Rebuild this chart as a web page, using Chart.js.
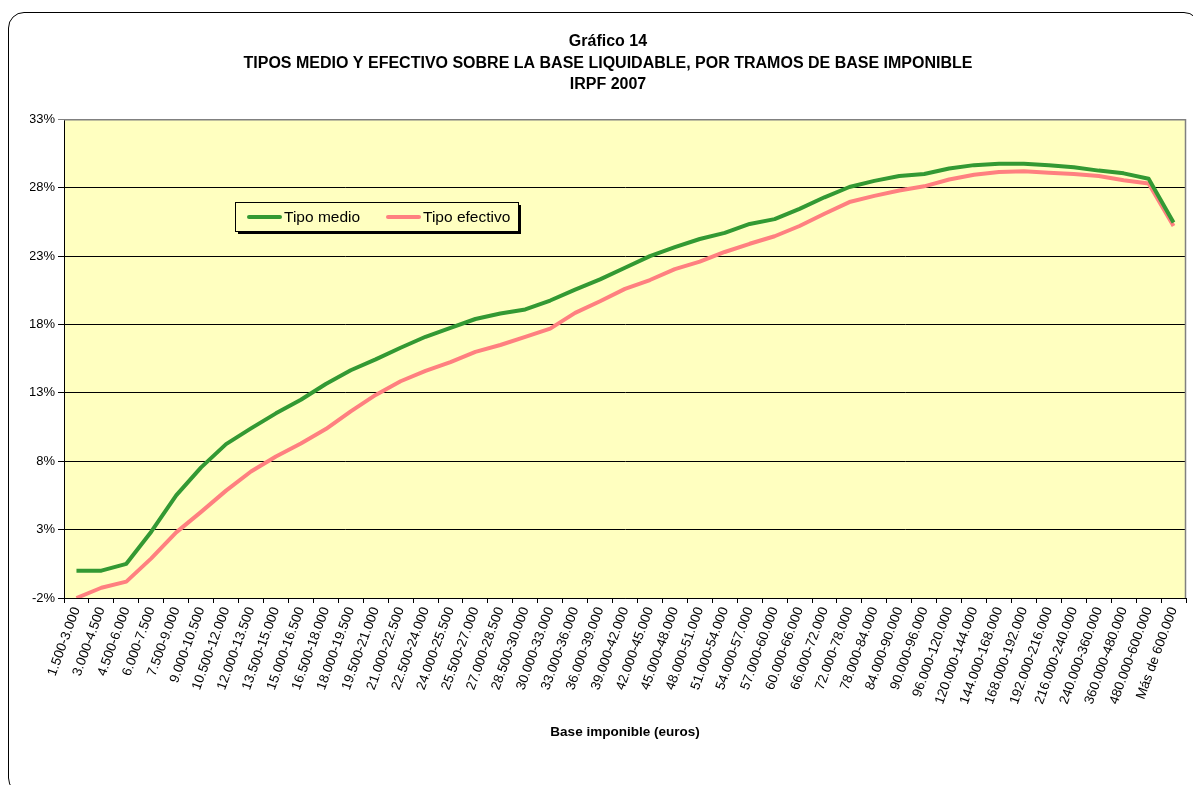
<!DOCTYPE html>
<html>
<head>
<meta charset="utf-8">
<script src="https://cdn.jsdelivr.net/npm/chart.js@4.4.0/dist/chart.umd.min.js"></script>
<style>
  html, body { margin: 0; padding: 0; background: #ffffff; overflow: hidden; }
  #wrap { position: relative; width: 1193px; height: 785px; }
  #frame { position: absolute; left: 8px; top: 12px; width: 1192px; height: 782px;
           border: 1.5px solid #000; border-radius: 16px; box-sizing: border-box; pointer-events: none; }
  canvas { position: absolute; left: 0; top: 0; }
</style>
</head>
<body>
<div id="wrap">
  <canvas id="c" width="1193" height="785"></canvas>
  <div id="frame"></div>
</div>
<script>
const categories = [
  "1.500-3.000","3.000-4.500","4.500-6.000","6.000-7.500","7.500-9.000","9.000-10.500",
  "10.500-12.000","12.000-13.500","13.500-15.000","15.000-16.500","16.500-18.000","18.000-19.500",
  "19.500-21.000","21.000-22.500","22.500-24.000","24.000-25.500","25.500-27.000","27.000-28.500",
  "28.500-30.000","30.000-33.000","33.000-36.000","36.000-39.000","39.000-42.000","42.000-45.000",
  "45.000-48.000","48.000-51.000","51.000-54.000","54.000-57.000","57.000-60.000","60.000-66.000",
  "66.000-72.000","72.000-78.000","78.000-84.000","84.000-90.000","90.000-96.000","96.000-120.000",
  "120.000-144.000","144.000-168.000","168.000-192.000","192.000-216.000","216.000-240.000",
  "240.000-360.000","360.000-480.000","480.000-600.000","Más de 600.000"
];
const tipoMedio = [
  0.0, 0.0, 0.5, 2.85, 5.5, 7.55, 9.25, 10.4, 11.5, 12.5, 13.65, 14.65, 15.45, 16.3,
  17.1, 17.75, 18.4, 18.8, 19.1, 19.75, 20.55, 21.3, 22.15, 23.0, 23.65, 24.25, 24.7,
  25.35, 25.7, 26.45, 27.3, 28.05, 28.5, 28.85, 29.0, 29.4, 29.65, 29.75, 29.75, 29.65,
  29.5, 29.25, 29.05, 28.65, 25.45
];
const tipoEfectivo = [
  -2.0, -1.25, -0.8, 0.9, 2.8, 4.3, 5.85, 7.25, 8.35, 9.3, 10.35, 11.65, 12.85, 13.85,
  14.6, 15.25, 16.0, 16.5, 17.1, 17.7, 18.85, 19.7, 20.6, 21.25, 22.05, 22.6, 23.3,
  23.9, 24.45, 25.2, 26.1, 26.95, 27.4, 27.8, 28.1, 28.6, 28.95, 29.15, 29.2, 29.1,
  29.0, 28.85, 28.55, 28.3, 25.2
];
const yTicks = [-2, 3, 8, 13, 18, 23, 28, 33];
const titleLines = ["Gráfico 14", "TIPOS MEDIO Y EFECTIVO SOBRE LA BASE LIQUIDABLE, POR TRAMOS DE BASE IMPONIBLE", "IRPF 2007"];
const xTitle = "Base imponible (euros)";
const seriesNames = ["Tipo medio", "Tipo efectivo"];
const seriesColors = ["#339933", "#FF8080"];

const FONT = "Arial, 'Liberation Sans', sans-serif";

const bgPlugin = {
  id: 'plotBg',
  beforeDraw(chart) {
    const {ctx, chartArea: a} = chart;
    ctx.save();
    ctx.fillStyle = '#FFFFC0';
    ctx.fillRect(a.left, a.top, a.right - a.left, a.bottom - a.top);
    ctx.restore();
  },
  afterDatasetsDraw(chart) {
    const {ctx, chartArea: a} = chart;
    ctx.save();
    ctx.strokeStyle = '#808080';
    ctx.lineWidth = 1.5;
    ctx.beginPath();
    ctx.moveTo(a.left, a.top + 0.5);
    ctx.lineTo(a.right - 0.5, a.top + 0.5);
    ctx.lineTo(a.right - 0.5, a.bottom);
    ctx.stroke();
    ctx.restore();
  }
};

const legendPlugin = {
  id: 'innerLegend',
  afterDraw(chart) {
    const ctx = chart.ctx;
    const x = 235, y = 202, w = 283, h = 29;
    ctx.save();
    ctx.fillStyle = '#000';
    ctx.fillRect(x + 3, y + 3, w, h);
    ctx.fillStyle = '#FFFFC0';
    ctx.fillRect(x, y, w, h);
    ctx.strokeStyle = '#000';
    ctx.lineWidth = 1;
    ctx.strokeRect(x + 0.5, y + 0.5, w, h);
    ctx.font = "15.5px " + FONT;
    ctx.textBaseline = 'middle';
    const items = chart.data.datasets;
    const starts = [249, 388];
    items.forEach((ds, i) => {
      const sx = starts[i];
      ctx.strokeStyle = ds.borderColor;
      ctx.lineWidth = 4;
      ctx.lineCap = 'round';
      ctx.beginPath();
      ctx.moveTo(sx, y + h / 2 + 0.5);
      ctx.lineTo(sx + 31, y + h / 2 + 0.5);
      ctx.stroke();
      ctx.fillStyle = '#000';
      ctx.fillText(ds.label, sx + 35, y + h / 2 + 1);
    });
    ctx.restore();
  }
};

new Chart(document.getElementById('c'), {
  type: 'line',
  data: {
    labels: categories,
    datasets: [
      { label: seriesNames[0], data: tipoMedio, borderColor: seriesColors[0], backgroundColor: seriesColors[0],
        borderWidth: 4, pointRadius: 0, tension: 0, borderJoinStyle: 'round' },
      { label: seriesNames[1], data: tipoEfectivo, borderColor: seriesColors[1], backgroundColor: seriesColors[1],
        borderWidth: 4, pointRadius: 0, tension: 0, borderJoinStyle: 'round' }
    ]
  },
  options: {
    responsive: false,
    animation: false,
    layout: { padding: { left: 30, right: 7, top: 18, bottom: 42 } },
    plugins: {
      legend: { display: false },
      tooltip: { enabled: false },
      title: {
        display: true,
        text: titleLines,
        color: '#000',
        font: { family: FONT, size: 16, weight: 'bold', lineHeight: 1.34 },
        padding: { top: 13, bottom: 24 }
      }
    },
    scales: {
      x: {
        type: 'category',
        offset: true,
        grid: { display: true, drawOnChartArea: false, drawTicks: true, tickLength: 5, offset: true, color: '#000' },
        border: { display: true, color: '#000', width: 1 },
        ticks: {
          autoSkip: false, maxRotation: 70, minRotation: 70, color: '#000', padding: 2,
          font: { family: FONT, size: 13.5 }
        },
        title: {
          display: true, text: xTitle, color: '#000',
          font: { family: FONT, size: 13.5, weight: 'bold' }, padding: { top: 4, bottom: 3 }
        },
        afterFit(scale) { scale.height = 145; }
      },
      y: {
        min: -2, max: 33,
        afterBuildTicks(scale) { scale.ticks = yTicks.map(v => ({ value: v })); },
        grid: {
          drawOnChartArea: true, drawTicks: true, tickLength: 6,
          color: ctx => (ctx.tick && ctx.tick.value === 33) ? '#808080' : '#000', lineWidth: 1
        },
        border: { display: true, color: '#000', width: 1 },
        ticks: {
          color: '#000', padding: 3, font: { family: FONT, size: 13 },
          callback: v => v + '%'
        },
        afterFit(scale) { scale.width = 34; }
      }
    }
  },
  plugins: [bgPlugin, legendPlugin]
});
</script>
</body>
</html>
